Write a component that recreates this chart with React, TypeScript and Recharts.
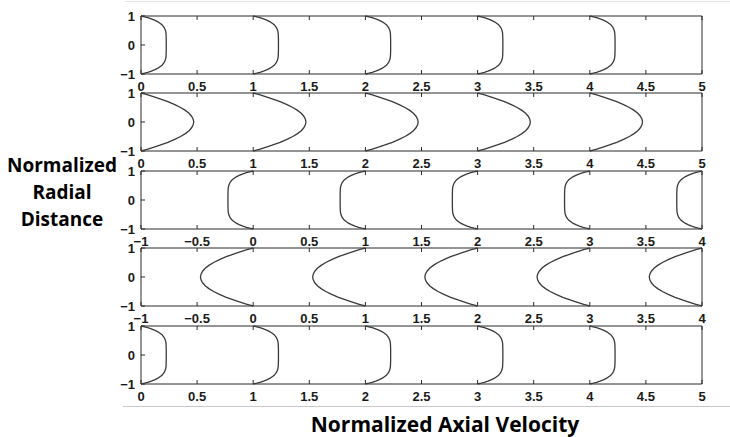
import React from 'react';
import { ScatterChart, Scatter, XAxis, YAxis } from 'recharts';

// Normalized radial positions (r / R) at which the velocity profiles were read
const radialPositions = [1, 0.97, 0.94, 0.9, 0.85, 0.8, 0.7, 0.6, 0.5, 0.4, 0.3, 0.2, 0.1, 0, -0.1, -0.2, -0.3, -0.4, -0.5, -0.6, -0.7, -0.8, -0.85, -0.9, -0.94, -0.97, -1];
// Profile magnitudes at those radial positions
const plugProfile = [0, 0.032, 0.06, 0.092, 0.125, 0.151, 0.187, 0.207, 0.218, 0.223, 0.224, 0.225, 0.225, 0.225, 0.225, 0.225, 0.224, 0.223, 0.218, 0.207, 0.187, 0.151, 0.125, 0.092, 0.06, 0.032, 0];
const parabolicProfile = [0, 0.028, 0.055, 0.089, 0.13, 0.169, 0.24, 0.301, 0.353, 0.395, 0.428, 0.451, 0.465, 0.47, 0.465, 0.451, 0.428, 0.395, 0.353, 0.301, 0.24, 0.169, 0.13, 0.089, 0.055, 0.028, 0];
// Axial stations where the profiles are drawn
const profileStations = [0, 1, 2, 3, 4];

const ticksPositive = [0, 0.5, 1, 1.5, 2, 2.5, 3, 3.5, 4, 4.5, 5];
const ticksShifted = [-1, -0.5, 0, 0.5, 1, 1.5, 2, 2.5, 3, 3.5, 4];
const radialTicks = [-1, 0, 1];

const panelProfiles = [plugProfile, parabolicProfile, plugProfile, parabolicProfile, plugProfile];
const panelDirections = [1, 1, -1, -1, 1];
const panelTicks = [ticksPositive, ticksPositive, ticksShifted, ticksShifted, ticksPositive];
const panelTops = [16, 93, 171, 248, 326];

const PLOT_LEFT = 141;
const PLOT_RIGHT = 702;
const PLOT_H = 58;
const PAD_TOP = 8;
const X_AXIS_H = 30;
const AXIS_COLOR = '#2a2a2a';
const CURVE_COLOR = '#3a3a3a';
const tickFont = { fontFamily: '"Liberation Sans", Arial, sans-serif', fontSize: 13, fontWeight: 700, fill: '#1a1a1a' };

const fmt = (v: number) => (v < 0 ? '\u2212' + String(Math.abs(v)) : String(v));
const NoDot = () => null;

function Panel({ idx }: { idx: number }) {
  const profile = panelProfiles[idx];
  const dir = panelDirections[idx];
  const ticks = panelTicks[idx];
  const domain = [ticks[0], ticks[ticks.length - 1]];
  const series = profileStations.map((st) =>
    radialPositions.map((r, i) => ({ x: st + dir * profile[i], y: r }))
  );
  return (
    <div style={{ position: 'absolute', left: 0, top: panelTops[idx] - PAD_TOP }}>
      <ScatterChart
        width={730}
        height={PAD_TOP + PLOT_H + X_AXIS_H}
        margin={{ top: PAD_TOP - 1, right: 730 - PLOT_RIGHT - 1, bottom: 0, left: 0 }}
      >
        <XAxis
          xAxisId="b"
          type="number"
          dataKey="x"
          domain={domain}
          ticks={ticks}
          allowDataOverflow
          height={X_AXIS_H}
          orientation="bottom"
          tickSize={-4}
          tickMargin={12}
          tickFormatter={fmt}
          tick={tickFont}
          stroke={AXIS_COLOR}
          interval={0}
        />
        <XAxis
          xAxisId="t"
          type="number"
          dataKey="x"
          domain={domain}
          ticks={ticks}
          allowDataOverflow
          height={1}
          orientation="top"
          tickSize={-4}
          tickFormatter={() => ''}
          stroke={AXIS_COLOR}
          interval={0}
        />
        <YAxis
          yAxisId="l"
          type="number"
          dataKey="y"
          domain={[-1, 1]}
          ticks={radialTicks}
          width={PLOT_LEFT}
          tickSize={-4}
          tickMargin={10}
          tickFormatter={fmt}
          tick={tickFont}
          stroke={AXIS_COLOR}
          interval={0}
        />
        <YAxis
          yAxisId="r"
          orientation="right"
          type="number"
          dataKey="y"
          domain={[-1, 1]}
          ticks={radialTicks}
          width={1}
          tickSize={-4}
          tickFormatter={() => ''}
          stroke={AXIS_COLOR}
          interval={0}
        />
        {series.map((pts, k) => (
          <Scatter
            key={k}
            xAxisId="b"
            yAxisId="l"
            data={pts}
            line={{ stroke: CURVE_COLOR, strokeWidth: 1.3 }}
            lineJointType="linear"
            shape={NoDot}
            fill="none"
            isAnimationActive={false}
          />
        ))}
      </ScatterChart>
    </div>
  );
}

export default function App() {
  const labelStyle: React.CSSProperties = {
    position: 'absolute',
    fontFamily: '"Open Sans", Lato, sans-serif',
    fontWeight: 700,
    color: '#000',
    whiteSpace: 'nowrap',
  };
  return (
    <div style={{ position: 'absolute', left: 0, top: 0, width: 730, height: 437, background: '#fff', overflow: 'hidden' }}>
      <div style={{ position: 'absolute', left: 125, top: 1, width: 605, height: 1, background: '#e4e4e4' }} />
      <div style={{ position: 'absolute', left: 123, top: 406, width: 607, height: 1, background: '#c8c8c8' }} />
      {panelTops.map((_, i) => (
        <Panel key={i} idx={i} />
      ))}
      <div style={{ ...labelStyle, fontSize: 19, left: 0, width: 124, top: 152, textAlign: 'center', lineHeight: '27px' }}>
        Normalized
        <br />
        Radial
        <br />
        Distance
      </div>
      <div style={{ ...labelStyle, fontSize: 21, left: 290, width: 310, top: 410, textAlign: 'center' }}>
        Normalized Axial Velocity
      </div>
    </div>
  );
}
